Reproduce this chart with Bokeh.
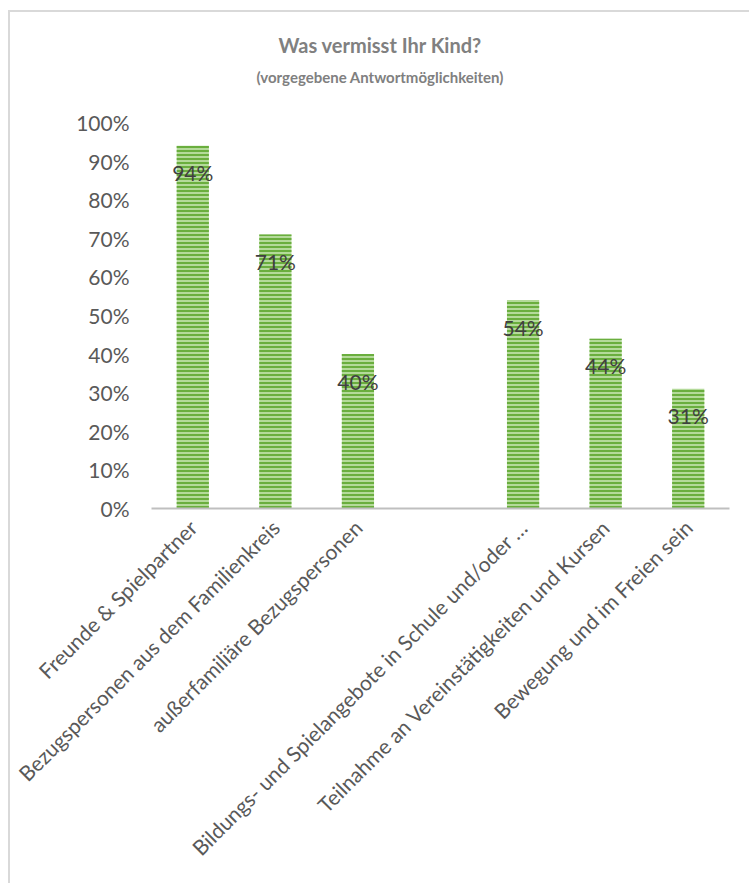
import math
from bokeh.plotting import figure
from bokeh.models import ColumnDataSource, FixedTicker, NumeralTickFormatter, Title, Range1d
from bokeh.core.properties import value
from bokeh.embed import file_html
from bokeh.resources import INLINE

# ---------------- data ----------------
categories = [
    "Freunde & Spielpartner",
    "Bezugspersonen aus dem Familienkreis",
    "außerfamiliäre Bezugspersonen",
    "",
    "Bildungs- und Spielangebote in Schule und/oder …",
    "Teilnahme an Vereinstätigkeiten und Kursen",
    "Bewegung und im Freien sein",
]
shares = [0.94, 0.71, 0.40, None, 0.54, 0.44, 0.31]
y_ticks = [0.0, 0.1, 0.2, 0.3, 0.4, 0.5, 0.6, 0.7, 0.8, 0.9, 1.0]
title_text = "Was vermisst Ihr Kind?"
subtitle_text = "(vorgegebene Antwortmöglichkeiten)"

# ---------------- layout / style ----------------
W, H = 741, 873
ML, MT = 10, 12            # offset of chart box on page
FRAME_L, FRAME_R = 141, 22
FRAME_T, FRAME_B = 110, 377
FONT = "Lato"
GRAY = "#595959"

positions = [i + 1 for i in range(len(categories))]
bx = [p for p, v in zip(positions, shares) if v is not None]
bt = [v for v in shares if v is not None]
blab = [f"{round(v * 100)}%" for v in bt]
src = ColumnDataSource(dict(x=bx, top=bt, lab=blab))

p = figure(width=W, height=H, output_backend="svg", toolbar_location=None,
           x_range=Range1d(0.5, len(categories) + 0.5), y_range=Range1d(0, 1),
           min_border_left=FRAME_L, min_border_right=FRAME_R,
           min_border_top=FRAME_T, min_border_bottom=FRAME_B,
           margin=(MT, 0, 0, ML),
           styles={"box-shadow": "-2px -2px 0 0 #d9d9d9"})
p.title = None
p.outline_line_color = None
p.grid.visible = False
p.background_fill_color = "white"
p.border_fill_color = "white"

p.vbar(x="x", top="top", width=0.39, source=src,
       fill_color="#b4da9a", line_color=None,
       hatch_pattern="horizontal_line", hatch_color="#6aae3e",
       hatch_scale=4, hatch_weight=2)

p.text(x="x", y="top", text="lab", source=src, text_align="center",
       text_baseline="middle", y_offset=27, text_font=value(FONT),
       text_font_size="21px", text_color="#404040")

# x axis
xa = p.xaxis[0]
xa.ticker = FixedTicker(ticks=bx)
xa.major_label_overrides = {pos: c for pos, c in zip(positions, categories) if c}
xa.major_label_orientation = math.pi / 4
xa.major_label_text_font = FONT
xa.major_label_text_font_size = "21px"
xa.major_label_text_color = GRAY
xa.major_label_standoff = 9
xa.major_tick_line_color = None
xa.minor_tick_line_color = None
xa.axis_line_color = "#bfbfbf"
xa.axis_line_width = 2

# y axis
ya = p.yaxis[0]
ya.ticker = FixedTicker(ticks=y_ticks)
ya.formatter = NumeralTickFormatter(format="0%")
ya.major_label_text_font = FONT
ya.major_label_text_font_size = "21px"
ya.major_label_text_color = GRAY
ya.major_label_standoff = 16
ya.major_tick_line_color = None
ya.minor_tick_line_color = None
ya.axis_line_color = None

# titles: spacer next to the frame, then subtitle, then title
p.add_layout(Title(text=" ", standoff=22, text_font_size="10px"), "above")
p.add_layout(Title(text=subtitle_text, align="left", offset=105, standoff=4,
                   text_font=FONT, text_font_style="bold",
                   text_font_size="15px", text_color="#808080"), "above")
p.add_layout(Title(text=title_text, align="left", offset=127, standoff=14,
                   text_font=FONT, text_font_style="bold",
                   text_font_size="20px", text_color="#808080"), "above")

open("out.html", "w").write(file_html(p, INLINE))
